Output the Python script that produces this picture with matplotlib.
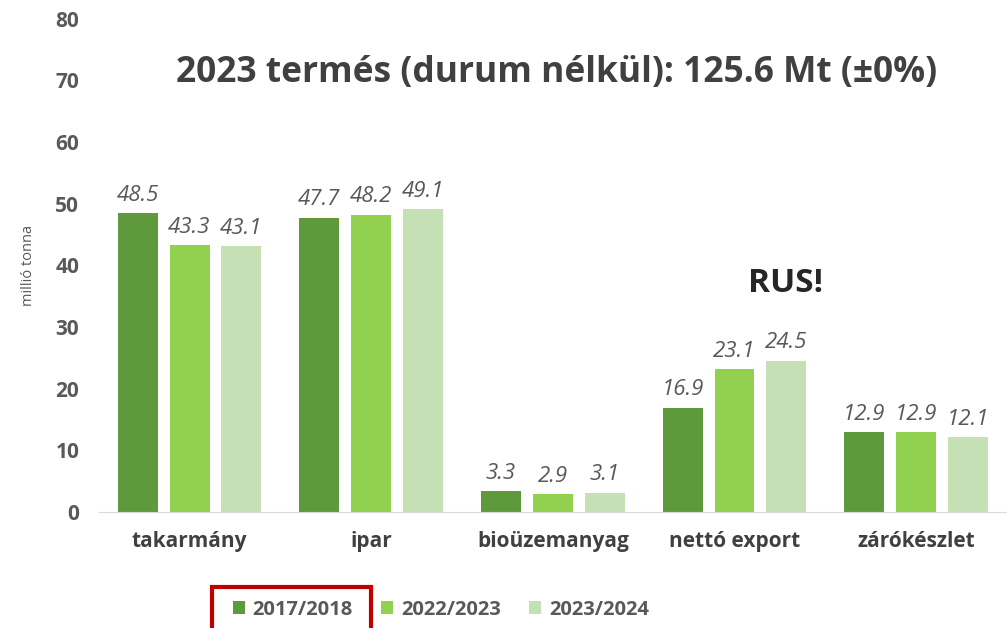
import numpy as np
import matplotlib
matplotlib.use("Agg")
import matplotlib.pyplot as plt
from matplotlib.patches import Rectangle

categories = ["takarmány", "ipar", "bioüzemanyag", "nettó export", "zárókészlet"]
series_names = ["2017/2018", "2022/2023", "2023/2024"]
v_2017 = [48.5, 47.7, 3.3, 16.9, 12.9]
v_2022 = [43.3, 48.2, 2.9, 23.1, 12.9]
v_2023 = [43.1, 49.1, 3.1, 24.5, 12.1]
colors = ["#5E9A3C", "#92D050", "#C5E0B4"]

plt.rcParams["font.family"] = ["Open Sans", "DejaVu Sans"]
GRAY = "#595959"

fig = plt.figure(figsize=(10.07, 6.28), dpi=100)
ax = fig.add_axes([0.098, 0.185, 0.902, 0.785])

x = np.arange(len(categories))
w, off = 0.22, 0.286
for i, (vals, col, name) in enumerate(zip([v_2017, v_2022, v_2023], colors, series_names)):
    bars = ax.bar(x + (i - 1) * off, vals, width=w, color=col, label=name)
    for b, v in zip(bars, vals):
        ax.text(b.get_x() + b.get_width() / 2, v + 1.2, f"{v:.1f}", ha="center", va="bottom",
                fontsize=16, style="italic", color=GRAY)

ax.set_xlim(-0.5, 4.5)
ax.set_ylim(0, 80)
ax.set_yticks(range(0, 81, 10))
ax.set_xticks(x)
ax.set_xticklabels(categories, fontsize=15, fontweight="bold", color="#404040")
ax.tick_params(axis="y", labelsize=15, labelcolor=GRAY, length=0, pad=14)
for t in ax.get_yticklabels():
    t.set_fontweight("bold")
ax.tick_params(axis="x", length=0, pad=14)
for s in ["top", "right", "left"]:
    ax.spines[s].set_visible(False)
ax.spines["bottom"].set_color("#D9D9D9")
ax.set_ylabel("millió tonna", fontsize=10.5, color=GRAY, labelpad=14)

ax.text(2.02, 71.2, "2023 termés (durum nélkül): 125.6 Mt (±0%)", ha="center", va="center",
        fontsize=25.5, fontweight="bold", color="#404040")
ax.text(3.28, 37.0, "RUS!", ha="center", va="center", fontsize=24, fontweight="bold", color="#262626")

leg = fig.legend(loc="center", bbox_to_anchor=(0.438, 0.029), ncol=3, frameon=False,
                 fontsize=14.5, handlelength=0.6, handleheight=0.6, handletextpad=0.4,
                 columnspacing=1.4)
for t in leg.get_texts():
    t.set_color(GRAY)
    t.set_fontweight("bold")

fig.patches.append(Rectangle((0.211, -0.01), 0.157, 0.075, transform=fig.transFigure,
                             fill=False, edgecolor="#C00000", lw=3))

fig.savefig("out.png", dpi=100)
